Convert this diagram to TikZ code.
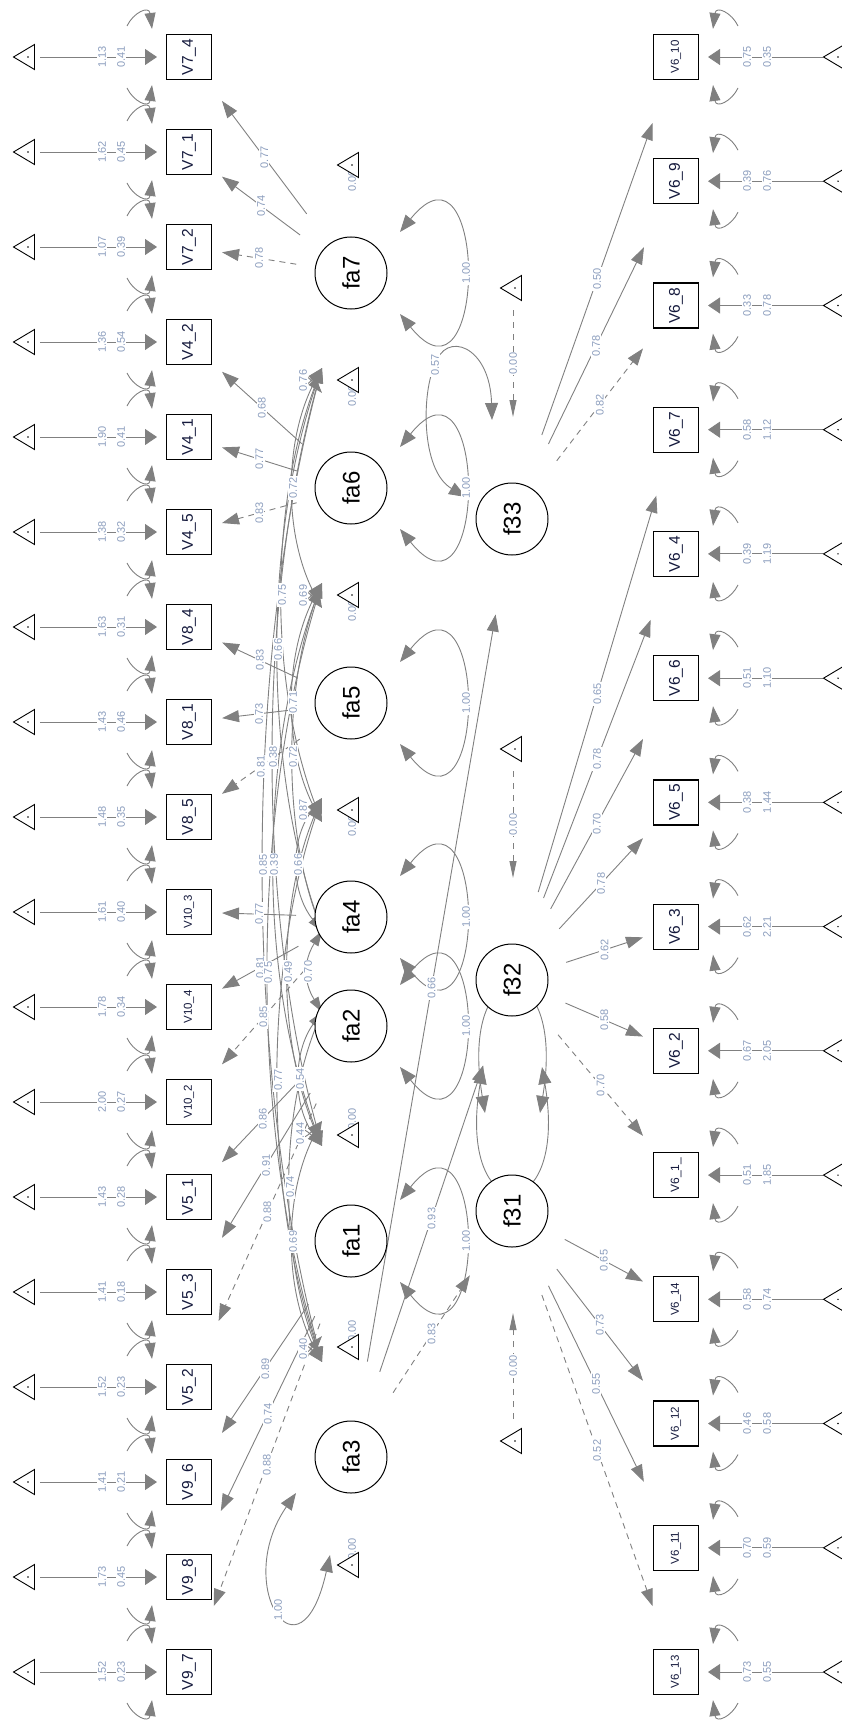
\documentclass[tikz,border=0pt]{standalone}
\usepackage{fontspec}
\setmainfont{Liberation Sans}
\usetikzlibrary{arrows.meta,calc}
\definecolor{edgec}{RGB}{128,128,128}
\definecolor{labc}{RGB}{140,158,190}
\definecolor{mantext}{RGB}{20,25,60}
\pgfdeclarelayer{lines}
\pgfdeclarelayer{labels}
\pgfsetlayers{lines,labels,main}
\newcommand\tmark[1]{%
  \draw[black,line width=0.9pt,fill=white] ([shift={(-10.5,0)}]#1) -- ([shift={(10.5,-12.5)}]#1) -- ([shift={(10.5,12.5)}]#1) -- cycle;
  \fill[black] ([shift={(4,0)}]#1) circle (0.8pt);}
\tikzset{
  manifest/.style={draw=black,line width=1.2pt,fill=white,minimum size=45pt,inner sep=0pt,text=mantext,rotate=90},
  latent/.style={circle,draw=black,line width=1pt,fill=white,minimum size=72pt,inner sep=0pt,rotate=90,font=\fontsize{24}{24}\selectfont},
  ln/.style={draw=edgec,line width=0.9pt},
  ldg/.style={ln,-{Triangle[length=17pt,width=12pt]}},
  cov/.style={ln,{Triangle[length=15pt,width=10pt]}-{Triangle[length=15pt,width=10pt]}},
  resid/.style={ln,-{Triangle[length=16pt,width=11pt]}},
  loopy/.style={ln,{Triangle[length=17pt,width=13pt]}-{Triangle[length=17pt,width=13pt]}},
  icptm/.style={ln,-{Triangle[length=12pt,width=16pt]}},
  icptl/.style={ln,dash pattern=on 6pt off 6pt,-{Triangle[length=17pt,width=7pt]}},
  elab/.style={font=\fontsize{11}{11}\selectfont,text=labc,fill=white,inner sep=1.2pt,rotate=90},
  dsh/.style={dash pattern=on 6pt off 5pt},
}
\begin{document}
\begin{tikzpicture}[x=1pt,y=-1pt]
\useasboundingbox (0,0) rectangle (842,1720);

% ---------------- latent nodes
\node[latent] (fa7) at (351,273) {fa7};
\node[latent] (fa6) at (351,488) {fa6};
\node[latent] (fa5) at (351,703) {fa5};
\node[latent] (fa4) at (351,917) {fa4};
\node[latent] (fa2) at (351,1026) {fa2};
\node[latent] (fa1) at (351,1241) {fa1};
\node[latent] (fa3) at (351,1457) {fa3};
\node[latent] (f33) at (512,519) {f33};
\node[latent] (f32) at (512,980) {f32};
\node[latent] (f31) at (512,1211) {f31};

% ---------------- left manifests
\foreach \nm/\yy/\tx/\ic/\rs/\fs in {
 m74/57/V7\_4/1.13/0.41/15.5, m71/152/V7\_1/1.62/0.45/15.5, m72/247/V7\_2/1.07/0.39/15.5,
 m42/342/V4\_2/1.36/0.54/15.5, m41/437/V4\_1/1.90/0.41/15.5, m45/532/V4\_5/1.38/0.32/15.5,
 m84/627/V8\_4/1.63/0.31/15.5, m81/722/V8\_1/1.43/0.46/15.5, m85/817/V8\_5/1.48/0.35/15.5,
 m103/912/V10\_3/1.61/0.40/11.5, m104/1007/V10\_4/1.78/0.34/11.5, m102/1102/V10\_2/2.00/0.27/11.5,
 m51/1197/V5\_1/1.43/0.28/15.5, m53/1292/V5\_3/1.41/0.18/15.5, m52/1387/V5\_2/1.52/0.23/15.5,
 m96/1482/V9\_6/1.41/0.21/15.5, m98/1577/V9\_8/1.73/0.45/15.5, m97/1672/V9\_7/1.52/0.23/15.5}{
  \node[manifest,font=\fontsize{\fs}{\fs}\selectfont] (\nm) at (189,\yy) {\tx};
  \coordinate (tL\nm) at (24,\yy);
  \tmark{tL\nm}
  \begin{pgfonlayer}{lines}
    \draw[icptm] ([shift={(16,0)}]tL\nm) -- ([shift={(-32,0)}]\nm.center);
    \draw[resid] ([shift={(-62,-31)}]\nm.center) .. controls ([shift={(-56,-44)}]\nm.center) and ([shift={(-40,-52)}]\nm.center) .. ([shift={(-37,-28)}]\nm.center);
    \draw[resid] ([shift={(-62,31)}]\nm.center) .. controls ([shift={(-56,44)}]\nm.center) and ([shift={(-40,52)}]\nm.center) .. ([shift={(-37,28)}]\nm.center);
  \end{pgfonlayer}
  \begin{pgfonlayer}{labels}
    \node[elab] at ([shift={(78,0)}]tL\nm) {\ic};
    \node[elab] at ([shift={(97,0)}]tL\nm) {\rs};
  \end{pgfonlayer}
}

% ---------------- right manifests
\foreach \nm/\yy/\tx/\rs/\ic/\fs in {
 r610/57/V6\_10/0.75/0.35/11.5, r69/181.2/V6\_9/0.39/0.76/15.5, r68/305.5/V6\_8/0.33/0.78/15.5,
 r67/429.7/V6\_7/0.58/1.12/15.5, r64/553.9/V6\_4/0.39/1.19/15.5, r66/678.2/V6\_6/0.51/1.10/15.5,
 r65/802.4/V6\_5/0.38/1.44/15.5, r63/926.6/V6\_3/0.62/2.21/15.5, r62/1050.8/V6\_2/0.67/2.05/15.5,
 r61/1175.1/V6\_1\_/0.51/1.85/12, r614/1299.3/V6\_14/0.58/0.74/11.5, r612/1423.5/V6\_12/0.46/0.58/11.5,
 r611/1547.8/V6\_11/0.70/0.59/11.5, r613/1672/V6\_13/0.73/0.55/11.5}{
  \node[manifest,font=\fontsize{\fs}{\fs}\selectfont] (\nm) at (676,\yy) {\tx};
  \coordinate (tR\nm) at (834,\yy);
  \tmark{tR\nm}
  \begin{pgfonlayer}{lines}
    \draw[icptm] ([shift={(-11,0)}]tR\nm) -- ([shift={(32,0)}]\nm.center);
    \draw[resid] ([shift={(62,-31)}]\nm.center) .. controls ([shift={(56,-44)}]\nm.center) and ([shift={(40,-52)}]\nm.center) .. ([shift={(37,-28)}]\nm.center);
    \draw[resid] ([shift={(62,31)}]\nm.center) .. controls ([shift={(56,44)}]\nm.center) and ([shift={(40,52)}]\nm.center) .. ([shift={(37,28)}]\nm.center);
  \end{pgfonlayer}
  \begin{pgfonlayer}{labels}
    \node[elab] at ([shift={(-87,0)}]tR\nm) {\rs};
    \node[elab] at ([shift={(-67,0)}]tR\nm) {\ic};
  \end{pgfonlayer}
}

% ---------------- loadings
\foreach \La/\lx/\ly/\Ma/\mx/\my/\lab/\st in {
 fa7/351/273/m74/189/57/0.77/solid, fa7/351/273/m71/189/152/0.74/solid, fa7/351/273/m72/189/247/0.78/dsh,
 fa6/351/488/m42/189/342/0.68/solid, fa6/351/488/m41/189/437/0.77/solid, fa6/351/488/m45/189/532/0.83/dsh,
 fa5/351/703/m84/189/627/0.83/solid, fa5/351/703/m81/189/722/0.73/solid, fa5/351/703/m85/189/817/0.81/dsh,
 fa4/351/917/m103/189/912/0.77/solid, fa4/351/917/m104/189/1007/0.81/solid, fa4/351/917/m102/189/1102/0.85/dsh,
 fa2/351/1026/m51/189/1197/0.86/solid, fa2/351/1026/m53/189/1292/0.91/solid, fa2/351/1026/m52/189/1387/0.88/dsh,
 fa1/351/1241/m96/189/1482/0.89/solid, fa1/351/1241/m98/189/1577/0.74/solid, fa1/351/1241/m97/189/1672/0.88/dsh,
 f33/512/519/r610/676/57/0.50/solid, f33/512/519/r69/676/181.2/0.78/solid, f33/512/519/r68/676/305.5/0.82/dsh,
 f32/512/980/r67/676/429.7/0.65/solid, f32/512/980/r64/676/553.9/0.78/solid, f32/512/980/r66/676/678.2/0.70/solid,
 f32/512/980/r65/676/802.4/0.78/solid, f32/512/980/r63/676/926.6/0.62/solid, f32/512/980/r62/676/1050.8/0.58/solid,
 f32/512/980/r61/676/1175.1/0.70/dsh,
 f31/512/1211/r614/676/1299.3/0.65/solid, f31/512/1211/r612/676/1423.5/0.73/solid, f31/512/1211/r611/676/1547.8/0.55/solid,
 f31/512/1211/r613/676/1672/0.52/dsh}{
  \pgfmathsetmacro\dx{\mx-\lx}
  \pgfmathsetmacro\dy{\my-\ly}
  \pgfmathsetmacro\ts{1/sqrt((\dx/55)^2+(\dy/100)^2)}
  \pgfmathsetmacro\te{min(33/abs(\dx),66/max(abs(\dy),0.01))}
  \pgfmathsetmacro\sx{(\ts)*(\dx)}
  \pgfmathsetmacro\sy{(\ts)*(\dy)}
  \pgfmathsetmacro\ex{-(\te)*(\dx)}
  \pgfmathsetmacro\ey{-(\te)*(\dy)}
  \begin{pgfonlayer}{lines}
    \draw[ldg,\st] ([shift={(\sx,\sy)}]\La.center) -- ([shift={(\ex,\ey)}]\Ma.center);
  \end{pgfonlayer}
  \begin{pgfonlayer}{labels}
    \path ([shift={(\sx,\sy)}]\La.center) -- ([shift={(\ex,\ey)}]\Ma.center) node[midway,elab] {\lab};
  \end{pgfonlayer}
}

% ---------------- fa3 -> second order
\foreach \Ma/\mx/\my/\lab/\st in {f33/512/519/0.66/solid, f32/512/980/0.93/solid, f31/512/1211/0.83/dsh}{
  \pgfmathsetmacro\dx{\mx-351}
  \pgfmathsetmacro\dy{\my-1457}
  \pgfmathsetmacro\ts{1/sqrt((\dx/55)^2+(\dy/100)^2)}
  \pgfmathsetmacro\sx{(\ts)*(\dx)}
  \pgfmathsetmacro\sy{(\ts)*(\dy)}
  \begin{pgfonlayer}{lines}
    \draw[ldg,\st] ([shift={(\sx,\sy)}]fa3.center) -- ([shift={(-\sx,-\sy)}]\Ma.center);
  \end{pgfonlayer}
  \begin{pgfonlayer}{labels}
    \path ([shift={(\sx,\sy)}]fa3.center) -- ([shift={(-\sx,-\sy)}]\Ma.center) node[midway,elab] {\lab};
  \end{pgfonlayer}
}

% ---------------- covariances among first-order factors
\foreach \A/\ya/\B/\yb/\mm/\lab in {
 fa7/273/fa6/488/303/0.76, fa7/273/fa5/703/293/0.72, fa7/273/fa4/917/282/0.75,
 fa6/488/fa5/703/303/0.69, fa7/273/fa2/1026/278/0.66, fa6/488/fa4/917/293/0.71,
 fa7/273/fa1/1241/273/0.38, fa6/488/fa2/1026/293/0.72, fa5/703/fa4/917/303/0.87,
 fa7/273/fa3/1457/263/0.85, fa6/488/fa1/1241/274/0.39, fa5/703/fa2/1026/298/0.66,
 fa6/488/fa3/1457/268/0.75, fa5/703/fa1/1241/288/0.49, fa4/917/fa2/1026/308/0.70,
 fa5/703/fa3/1457/278/0.77, fa4/917/fa1/1241/300/0.54, fa2/1026/fa1/1241/300/0.44,
 fa4/917/fa3/1457/290/0.74, fa2/1026/fa3/1457/293/0.69, fa1/1241/fa3/1457/303/0.40}{
  \pgfmathsetmacro\yA{\ya+95}
  \pgfmathsetmacro\yB{\yb-95}
  \pgfmathsetmacro\cx{(8*\mm-644)/6}
  \pgfmathsetmacro\sg{(\yB>\yA)?1:-1}
  \pgfmathsetmacro\kk{max(30,0.3*abs(\yB-\yA))}
  \pgfmathsetmacro\pA{\yA+\sg*\kk}
  \pgfmathsetmacro\pB{\yB-\sg*\kk}
  \begin{pgfonlayer}{lines}
    \draw[cov] ([shift={(-29,95)}]\A.center) .. controls (\cx,\pA) and (\cx,\pB) .. ([shift={(-29,-95)}]\B.center);
  \end{pgfonlayer}
  \begin{pgfonlayer}{labels}
    \path ([shift={(-29,95)}]\A.center) .. controls (\cx,\pA) and (\cx,\pB) .. ([shift={(-29,-95)}]\B.center) node[pos=0.5,elab] {\lab};
  \end{pgfonlayer}
}

% ---------------- variance loops of first-order factors
\foreach \A in {fa7,fa6,fa5,fa4,fa2,fa1}{
  \begin{pgfonlayer}{lines}
    \draw[loopy] ([shift={(49,-41)}]\A.center) .. controls ([shift={(137,-150)}]\A.center) and ([shift={(137,150)}]\A.center) .. ([shift={(49,41)}]\A.center);
  \end{pgfonlayer}
  \begin{pgfonlayer}{labels}
    \node[elab] at ([shift={(115,0)}]\A.center) {1.00};
  \end{pgfonlayer}
}
\begin{pgfonlayer}{lines}
  \draw[loopy] ([shift={(-55,36)}]fa3.center) .. controls ([shift={(-119,128)}]fa3.center) and ([shift={(-51,233)}]fa3.center) .. ([shift={(-21,98)}]fa3.center);
  % f33 residual loop
  \draw[loopy] ([shift={(-46,-22)}]f33.center) .. controls ([shift={(-92,-49)}]f33.center) and ([shift={(-90,-129)}]f33.center) .. ([shift={(-77,-154)}]f33.center) coordinate (l33)
     .. controls ([shift={(-67,-189)}]f33.center) and ([shift={(-22,-174)}]f33.center) .. ([shift={(-20,-99)}]f33.center);
  % f32 and f31 residual loops
  \draw[loopy] ([shift={(-29,87)}]f32.center) .. controls ([shift={(-57,250)}]f32.center) and ([shift={(58,250)}]f32.center) .. ([shift={(30,87)}]f32.center);
  \draw[loopy] ([shift={(-27,-98)}]f31.center) .. controls ([shift={(-54,-261)}]f31.center) and ([shift={(55,-261)}]f31.center) .. ([shift={(28,-98)}]f31.center);
\end{pgfonlayer}
\begin{pgfonlayer}{labels}
  \node[elab] at ([shift={(-73,153)}]fa3.center) {1.00};
  \node[elab] at (l33) {0.57};
\end{pgfonlayer}

% ---------------- intercepts of latent variables
\foreach \A/\ty/\off in {fa7/165/16, fa6/380/16, fa5/595/16, fa4/810/16, fa2/1135/-16, fa1/1347/-16, fa3/1565/-16}{
  \coordinate (t\A) at (348,\ty);
  \begin{pgfonlayer}{labels}
    \node[elab] at ([shift={(4,\off)}]t\A) {0.00};
  \end{pgfonlayer}
  \tmark{t\A}
}
\foreach \A/\ty/\sg in {f33/288/1, f32/749/1, f31/1441/-1}{
  \coordinate (t\A) at (511,\ty);
  \tmark{t\A}
  \begin{pgfonlayer}{lines}
    \draw[icptl] ([shift={(2,22*\sg)}]t\A) -- ([shift={(1,-102*\sg)}]\A.center);
  \end{pgfonlayer}
  \begin{pgfonlayer}{labels}
    \path ([shift={(2,22*\sg)}]t\A) -- ([shift={(1,-102*\sg)}]\A.center) node[midway,elab] {0.00};
  \end{pgfonlayer}
}
\end{tikzpicture}
\end{document}
